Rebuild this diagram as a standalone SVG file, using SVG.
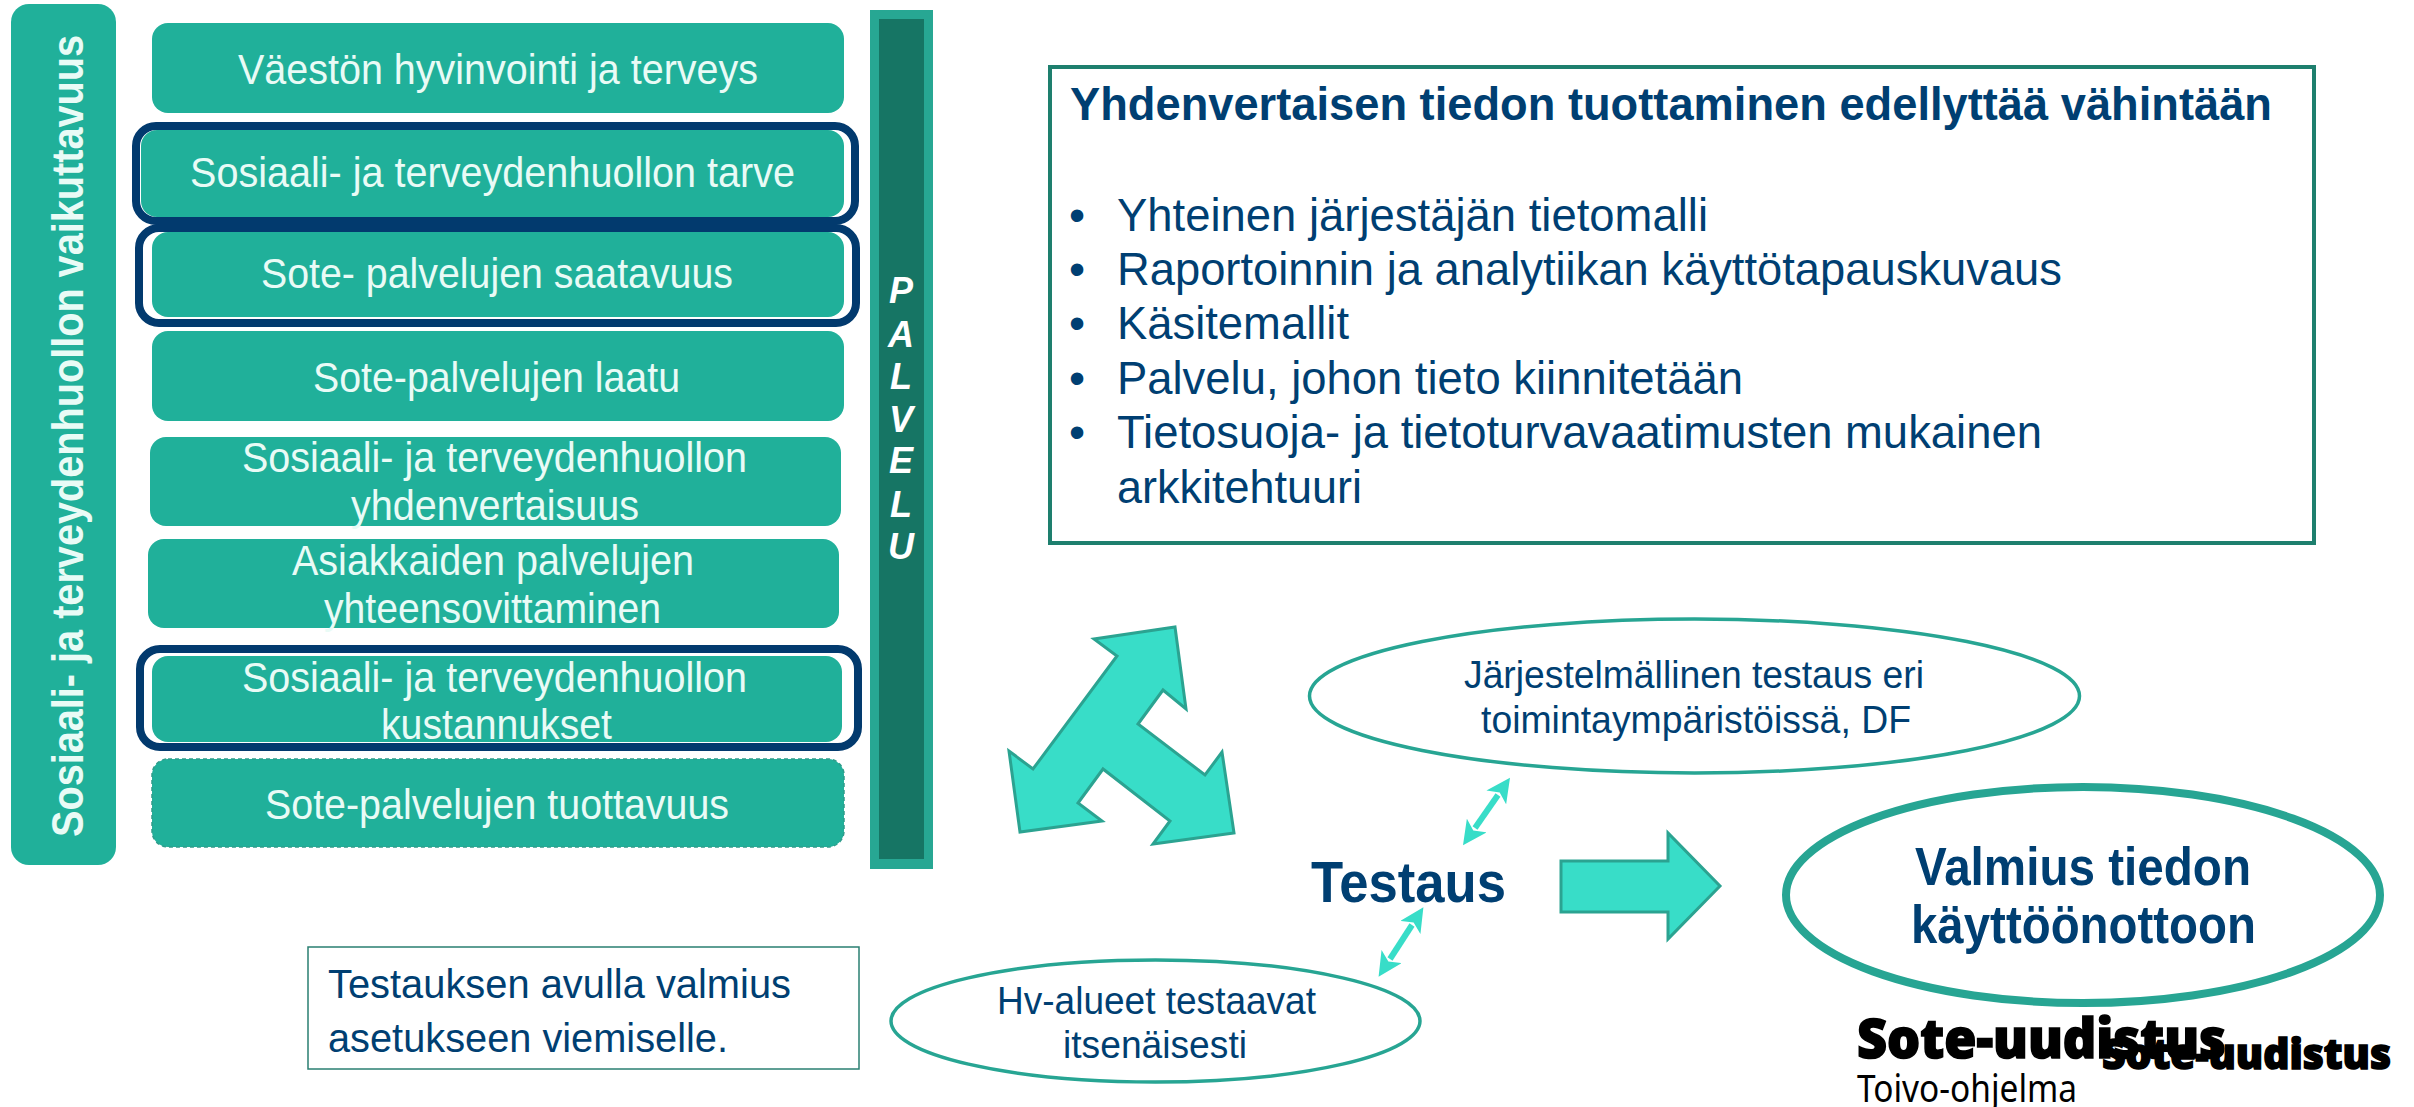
<svg xmlns="http://www.w3.org/2000/svg" width="2414" height="1107" viewBox="0 0 2414 1107">
<style>
text{font-family:"Liberation Sans",Arial,sans-serif}
.box{fill:#20B09A}
.bt{fill:#E9FBF6;font-size:43px}
.ol{fill:none;stroke:#023A6E;stroke-width:8}
.nv{fill:#003F72}
.n42{font-size:46px}
.ell{fill:#fff;stroke:#27A593;stroke-width:3.5}
.n34{font-size:38px}
.blk{fill:#38DDC8;stroke:#2BA391;stroke-width:3;stroke-linejoin:miter}
.pl{fill:#fff;font-size:36px;font-weight:bold;font-style:italic;text-anchor:middle}
.logo{font-family:"Noto Sans","Open Sans",sans-serif;fill:#000}
.hv{stroke:#000;stroke-width:1.6}
.dbl{stroke:#38DDC8;stroke-width:6;fill:none;marker-start:url(#ah);marker-end:url(#ah)}
</style>
<defs>
<marker id="ah" viewBox="0 0 24 24" refX="3" refY="12" markerWidth="24" markerHeight="24" markerUnits="userSpaceOnUse" orient="auto-start-reverse">
<path d="M24,12 L0,0 L6,12 L0,24 Z" fill="#38DDC8"/>
</marker>
</defs>
<rect width="2414" height="1107" fill="#fff"/>
<g id="side-bar">
<rect x="11" y="4" width="105" height="861" rx="18" class="box"/>
<text transform="translate(83,837) rotate(-90)" font-size="45" font-weight="bold" fill="#E9FBF6" textLength="802" lengthAdjust="spacingAndGlyphs">Sosiaali- ja terveydenhuollon vaikuttavuus</text>
</g>
<g id="box-1"><rect x="152" y="23" width="692" height="90" rx="16" class="box"/><text class="bt" x="238" y="84" textLength="520" lengthAdjust="spacingAndGlyphs">Väestön hyvinvointi ja terveys</text></g>
<g id="box-2"><rect x="141" y="130" width="703" height="87" rx="16" class="box"/><rect x="136" y="126" width="719" height="95" rx="20" class="ol"/><text class="bt" x="190" y="187" textLength="605" lengthAdjust="spacingAndGlyphs">Sosiaali- ja terveydenhuollon tarve</text></g>
<g id="box-3"><rect x="152" y="232" width="692" height="85" rx="16" class="box"/><rect x="139" y="228" width="717" height="95" rx="20" class="ol"/><text class="bt" x="261" y="288" textLength="472" lengthAdjust="spacingAndGlyphs">Sote- palvelujen saatavuus</text></g>
<g id="box-4"><rect x="152" y="331" width="692" height="90" rx="16" class="box"/><text class="bt" x="313" y="392" textLength="367" lengthAdjust="spacingAndGlyphs">Sote-palvelujen laatu</text></g>
<g id="box-5"><rect x="150" y="437" width="691" height="89" rx="16" class="box"/><text class="bt" x="242" y="472" textLength="505" lengthAdjust="spacingAndGlyphs">Sosiaali- ja terveydenhuollon</text><text class="bt" x="351" y="520" textLength="288" lengthAdjust="spacingAndGlyphs">yhdenvertaisuus</text></g>
<g id="box-6"><rect x="148" y="539" width="691" height="89" rx="16" class="box"/><text class="bt" x="292" y="575" textLength="402" lengthAdjust="spacingAndGlyphs">Asiakkaiden palvelujen</text><text class="bt" x="324" y="623" textLength="337" lengthAdjust="spacingAndGlyphs">yhteensovittaminen</text></g>
<g id="box-7"><rect x="152" y="656" width="690" height="86" rx="16" class="box"/><rect x="140" y="649" width="718" height="98" rx="20" class="ol"/><text class="bt" x="242" y="692" textLength="505" lengthAdjust="spacingAndGlyphs">Sosiaali- ja terveydenhuollon</text><text class="bt" x="381" y="739" textLength="231" lengthAdjust="spacingAndGlyphs">kustannukset</text></g>
<g id="box-8"><rect x="152" y="759" width="692" height="88" rx="16" class="box" stroke="#2F9C8B" stroke-width="1.5" stroke-dasharray="4 3"/><text class="bt" x="265" y="819" textLength="464" lengthAdjust="spacingAndGlyphs">Sote-palvelujen tuottavuus</text></g>
<g id="palvelu">
<rect x="870" y="10" width="63" height="859" fill="#27A793"/>
<rect x="879" y="19" width="45" height="840" fill="#167564"/>
<text class="pl" x="901" y="303">P</text><text class="pl" x="901" y="347">A</text><text class="pl" x="901" y="389">L</text><text class="pl" x="901" y="432">V</text><text class="pl" x="901" y="473">E</text><text class="pl" x="901" y="517">L</text><text class="pl" x="901" y="559">U</text>
</g>
<g id="requirements">
<rect x="1050" y="67" width="1264" height="476" fill="#fff" stroke="#1E7F6E" stroke-width="4"/>
<text class="nv n42" x="1070" y="120" font-weight="bold" textLength="1202" lengthAdjust="spacingAndGlyphs">Yhdenvertaisen tiedon tuottaminen edellyttää vähintään</text>
<text class="nv n42" x="1069" y="231">•</text><text class="nv n42" x="1117" y="231" textLength="591" lengthAdjust="spacingAndGlyphs">Yhteinen järjestäjän tietomalli</text>
<text class="nv n42" x="1069" y="285">•</text><text class="nv n42" x="1117" y="285" textLength="945" lengthAdjust="spacingAndGlyphs">Raportoinnin ja analytiikan käyttötapauskuvaus</text>
<text class="nv n42" x="1069" y="339">•</text><text class="nv n42" x="1117" y="339" textLength="232" lengthAdjust="spacingAndGlyphs">Käsitemallit</text>
<text class="nv n42" x="1069" y="394">•</text><text class="nv n42" x="1117" y="394" textLength="626" lengthAdjust="spacingAndGlyphs">Palvelu, johon tieto kiinnitetään</text>
<text class="nv n42" x="1069" y="448">•</text><text class="nv n42" x="1117" y="448" textLength="925" lengthAdjust="spacingAndGlyphs">Tietosuoja- ja tietoturvavaatimusten mukainen</text>
<text class="nv n42" x="1117" y="503" textLength="245" lengthAdjust="spacingAndGlyphs">arkkitehtuuri</text>
</g>
<g id="cycle-arrows"><polygon class="blk" points="1175,627 1186,709 1163,690 1138,724 1205,775 1222,752 1234,833 1153,844 1170,821 1103,769 1078,803 1102,821 1020,832 1009,751 1033,769 1117,656 1094,639"/></g>
<g id="ellipse-testing"><ellipse class="ell" cx="1694.5" cy="696" rx="385" ry="77"/><text class="nv n34" x="1464" y="688" textLength="460" lengthAdjust="spacingAndGlyphs">Järjestelmällinen testaus eri</text><text class="nv n34" x="1481" y="733" textLength="430" lengthAdjust="spacingAndGlyphs">toimintaympäristöissä, DF</text></g>
<g id="testaus"><text class="nv" x="1311" y="902" font-size="58" font-weight="bold" textLength="195" lengthAdjust="spacingAndGlyphs">Testaus</text></g>
<g id="ellipse-hv"><ellipse class="ell" cx="1155.5" cy="1021" rx="264.5" ry="61"/><text class="nv n34" x="997" y="1014" textLength="319" lengthAdjust="spacingAndGlyphs">Hv-alueet testaavat</text><text class="nv n34" x="1063" y="1058" textLength="184" lengthAdjust="spacingAndGlyphs">itsenäisesti</text></g>
<g id="ellipse-ready"><ellipse cx="2083" cy="895" rx="297" ry="108" fill="#fff" stroke="#27A593" stroke-width="8"/><text class="nv" x="1915" y="885" font-size="53" font-weight="bold" textLength="336" lengthAdjust="spacingAndGlyphs">Valmius tiedon</text><text class="nv" x="1911" y="943" font-size="53" font-weight="bold" textLength="345" lengthAdjust="spacingAndGlyphs">käyttöönottoon</text></g>
<g id="note"><rect x="308" y="947" width="551" height="122" fill="#fff" stroke="#2A7F72" stroke-width="1.5"/><text class="nv" x="328" y="998" font-size="41" textLength="463" lengthAdjust="spacingAndGlyphs">Testauksen avulla valmius</text><text class="nv" x="328" y="1052" font-size="41" textLength="400" lengthAdjust="spacingAndGlyphs">asetukseen viemiselle.</text></g>
<g id="logo">
<text class="logo hv" x="1857" y="1058" font-size="54" font-weight="900" textLength="369" lengthAdjust="spacingAndGlyphs">Sote-uudistus</text>
<text class="logo hv" x="2102" y="1069" font-size="42" font-weight="900" textLength="289" lengthAdjust="spacingAndGlyphs">Sote-uudistus</text>
<text class="logo" x="1857" y="1102" font-size="38" textLength="220" lengthAdjust="spacingAndGlyphs">Toivo-ohjelma</text>
</g>
<g id="connectors">
<polygon class="blk" points="1561,861 1668,861 1668,833 1720,886 1668,939 1668,912 1561,912"/>
<line class="dbl" x1="1498" y1="795" x2="1475" y2="828"/>
<line class="dbl" x1="1412" y1="925" x2="1390" y2="959"/>
</g>
</svg>
